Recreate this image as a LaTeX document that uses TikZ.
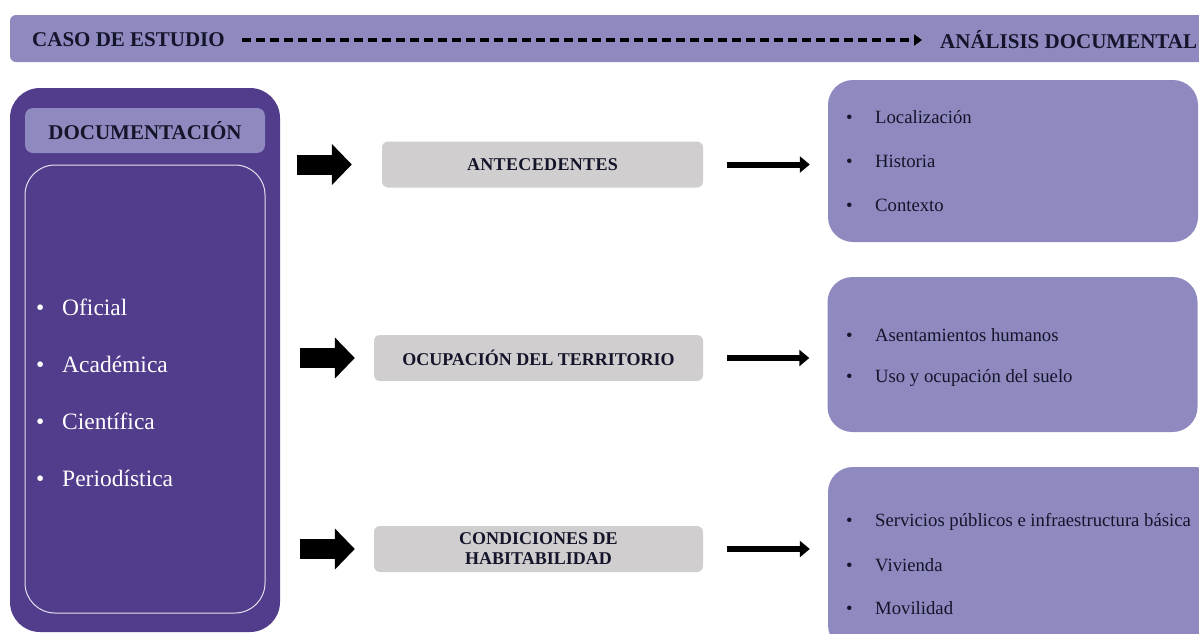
\documentclass[tikz,border=0pt]{standalone}
\usepackage{fontspec}
\setmainfont{Liberation Serif}
\usetikzlibrary{arrows.meta, positioning}
\definecolor{lila}{HTML}{8E8AC0}
\definecolor{morado}{HTML}{523C8C}
\definecolor{gris}{HTML}{D0CECE}
\definecolor{tinta}{HTML}{14142A}

\begin{document}
\begin{tikzpicture}[x=1pt, y=-1pt, text=tinta,
    caja/.style={fill=lila, rounded corners=25pt, minimum width=370pt},
    grisbox/.style={fill=gris, rounded corners=6pt, minimum width=329pt, minimum height=46pt,
      align=center, font=\fontsize{18}{20}\selectfont\bfseries},
    titulo/.style={inner sep=0pt, anchor=west, font=\fontsize{21}{24}\selectfont\bfseries},
    bloque/.style={line width=20pt, -{Triangle[length=20pt, width=40pt]}},
    fina/.style={line width=6pt, -{Triangle[length=10pt, width=16pt]}},
    punto/.style={anchor=west, inner sep=0pt, font=\fontsize{18.7}{20}\selectfont},
    docitem/.style={anchor=west, inner sep=0pt, text=white, font=\fontsize{23.5}{26}\selectfont}]
    \clip (0,0) rectangle (1199,633);
    \fill[lila, rounded corners=6pt] (10,15) rectangle (1240,62);
    \node[titulo] (caso) at (32,40) {CASO DE ESTUDIO};
    \node[titulo] (analisis) at (940,40) {ANÁLISIS DOCUMENTAL};
    \draw[line width=3.5pt, dash pattern=on 9pt off 5pt, -{Triangle[length=8pt, width=11pt]},
      shorten <=17pt, shorten >=18pt] (caso.east) -- (caso.east -| analisis.west);

    \node[fill=morado, rounded corners=30pt, minimum width=270pt, minimum height=544pt] (doc) at (145,360) {};
    \node[fill=lila, rounded corners=8pt, minimum width=240pt, minimum height=45pt,
      font=\fontsize{21}{24}\selectfont\bfseries] (doctit) at (145,130.5) {DOCUMENTACIÓN};
    \node[draw=white!75!lila, line width=1pt, rounded corners=30pt, minimum width=240pt,
      minimum height=448pt] (docmarco) at (145,389) {};
    \foreach \t [count=\i] in {Oficial, Académica, Científica, Periodística}
      \node[docitem] (doc\i) at (36,250+57*\i) {\makebox[26pt][l]{\textbullet}\t};

    \node[grisbox, minimum width=321pt] (ante) at (542.5,164.5) {\addfontfeatures{LetterSpace=2}ANTECEDENTES};
    \node[grisbox] (ocup) at (538.5,358) {OCUPACIÓN DEL TERRITORIO};
    \node[grisbox] (cond) at (538.5,549) {CONDICIONES DE\\HABITABILIDAD};

    \node[caja, minimum height=162pt] (antelista) at (1013,161) {};
    \node[caja, minimum height=155pt] (ocuplista) at (1012.5,354.5) {};
    \node[caja, minimum width=392pt, minimum height=183pt] (condlista) at (1024,558.5) {};

    \foreach \t [count=\i] in {Localización, Historia, Contexto}
      \node[punto] (ante\i) at (846,73+44*\i) {\makebox[29pt][l]{\textbullet}\t};
    \foreach \t [count=\i] in {Asentamientos humanos, Uso y ocupación del suelo}
      \node[punto] (ocup\i) at (846,292+43*\i) {\makebox[29pt][l]{\textbullet}\t};
    \foreach \t [count=\i] in {Servicios públicos e infraestructura básica, Vivienda, Movilidad}
      \node[punto] (cond\i) at (846,479+43*\i) {\makebox[29pt][l]{\textbullet}\t};

    \draw[bloque] ([xshift=17pt]doc.east |- ante.west) -- ([xshift=-30pt]ante.west);
    \draw[bloque] ([xshift=20pt]doc.east |- ocup.west) -- ([xshift=-19pt]ocup.west);
    \draw[bloque] ([xshift=20pt]doc.east |- cond.west) -- ([xshift=-19pt]cond.west);

    \draw[fina] ([xshift=24pt]ante.east) -- ([xshift=-18pt]antelista.west |- ante.east);
    \draw[fina] ([xshift=24pt]ocup.east) -- ([xshift=-18pt]ocuplista.west |- ocup.east);
    \draw[fina] ([xshift=24pt]cond.east) -- ([xshift=-18pt]condlista.west |- cond.east);
\end{tikzpicture}
\end{document}
